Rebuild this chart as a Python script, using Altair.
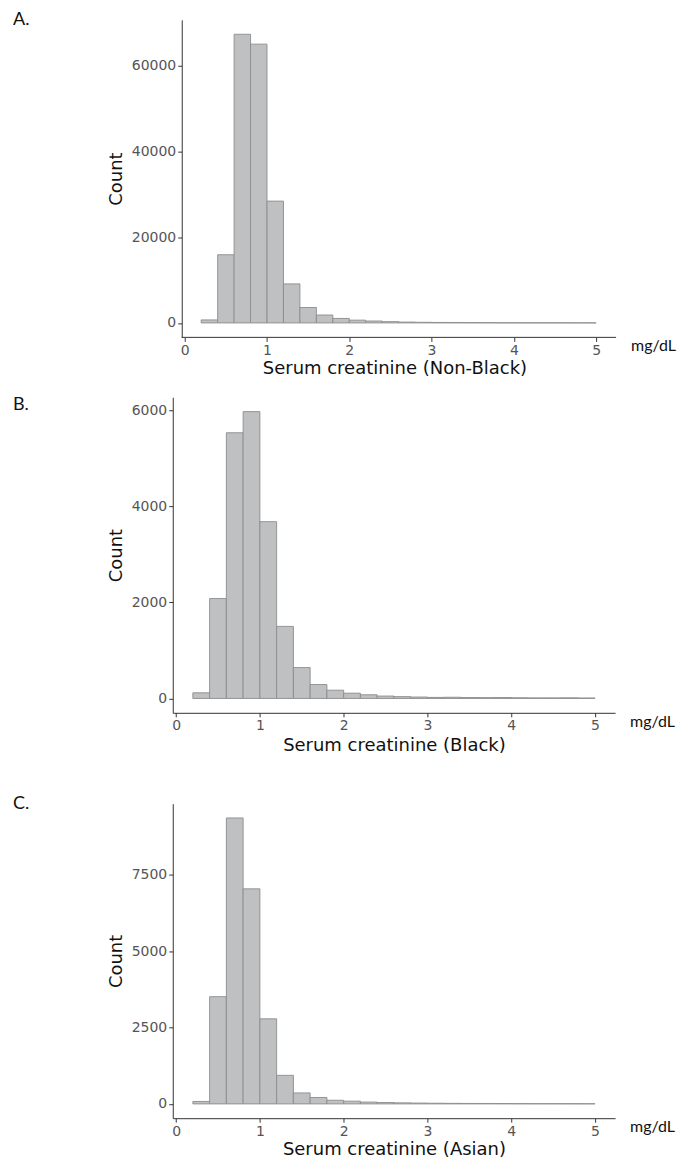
import altair as alt
import pandas as pd

# Bin edges (mg/dL), bin width 0.2
bin_lo = [0.2, 0.4, 0.6, 0.8, 1.0, 1.2, 1.4, 1.6, 1.8, 2.0, 2.2, 2.4,
          2.6, 2.8, 3.0, 3.2, 3.4, 3.6, 3.8, 4.0, 4.2, 4.4, 4.6, 4.8]
bin_hi = [0.4, 0.6, 0.8, 1.0, 1.2, 1.4, 1.6, 1.8, 2.0, 2.2, 2.4, 2.6,
          2.8, 3.0, 3.2, 3.4, 3.6, 3.8, 4.0, 4.2, 4.4, 4.6, 4.8, 5.0]

count_nonblack = [700, 15900, 67300, 65000, 28400, 9100, 3600, 1850, 1050, 650, 450, 300,
                  200, 150, 110, 90, 70, 60, 50, 40, 35, 30, 25, 20]
count_black = [118, 2080, 5530, 5970, 3680, 1500, 643, 290, 172, 110, 77, 50,
               38, 30, 22, 25, 20, 18, 20, 15, 12, 12, 14, 10]
count_asian = [80, 3510, 9360, 7040, 2785, 935, 360, 210, 120, 90, 60, 45,
               35, 28, 22, 18, 15, 14, 12, 10, 9, 8, 7, 6]

x_ticks = [0, 1, 2, 3, 4, 5]
titles = ["Serum creatinine (Non-Black)", "Serum creatinine (Black)", "Serum creatinine (Asian)"]
letters = ["A.", "B.", "C."]
unit = "mg/dL"


def panel(counts, xtitle, letter, xdomain, ydomain, yticks, w, h, letter_y,
          yoffset=0, xaxis_start=None, xtitle_pad=2):
    df = pd.DataFrame({"lo": bin_lo, "hi": bin_hi, "n": counts})
    bars = alt.Chart(df).mark_rect(
        fill="#bfc0c2", stroke="#8c8c8c", strokeWidth=0.9
    ).encode(
        x=alt.X("lo:Q",
                scale=alt.Scale(domain=xdomain, nice=False, zero=False),
                axis=alt.Axis(values=x_ticks, title=xtitle, format="d",
                              titlePadding=xtitle_pad, domain=xaxis_start is None)),
        x2="hi:Q",
        y=alt.Y("n:Q",
                scale=alt.Scale(domain=ydomain, nice=False, zero=False),
                axis=alt.Axis(values=yticks, title="Count", format="d",
                              titlePadding=6, offset=yoffset)),
        y2=alt.datum(0),
    )
    layers = [bars]
    if xaxis_start is not None:
        axis_line = alt.Chart(pd.DataFrame({"a": [xaxis_start], "b": [xdomain[1]],
                                            "y": [ydomain[0]]})).mark_rule(
            color="#333333", strokeWidth=1
        ).encode(x="a:Q", x2="b:Q", y="y:Q")
        layers.append(axis_line)
    lab = alt.Chart(pd.DataFrame({"t": [letter]})).mark_text(
        align="left", baseline="middle", fontSize=18, font="Lato", color="#111"
    ).encode(text="t:N", x=alt.value(-160), y=alt.value(letter_y))
    un = alt.Chart(pd.DataFrame({"t": [unit]})).mark_text(
        align="left", baseline="middle", fontSize=16, font="Lato", color="#111"
    ).encode(text="t:N", x=alt.value(w + 15), y=alt.value(h + 9))
    layers += [lab, un]
    return alt.layer(*layers).properties(width=w, height=h)


pA = panel(count_nonblack, titles[0], letters[0], [-0.1456, 5.243], [-3365, 70665],
           [0, 20000, 40000, 60000], 444, 318, 0, yoffset=-9, xaxis_start=-0.036)
pB = panel(count_black, titles[1], letters[1], [-0.04, 5.24], [-298.5, 6268.5],
           [0, 2000, 4000, 6000], 443, 316, 8, xtitle_pad=4)
pC = panel(count_asian, titles[2], letters[2], [-0.04, 5.24], [-468, 9828],
           [0, 2500, 5000, 7500], 443, 315, 0)

top = alt.vconcat(pA, pB, spacing=19)
chart = alt.vconcat(top, pC, spacing=40).properties(
    padding={"left": 5, "top": 2, "right": 0, "bottom": 0}
).configure_view(stroke=None).configure_axis(
    grid=False,
    domainColor="#333333",
    domainWidth=1,
    tickColor="#333333",
    tickSize=4,
    labelColor="#555555",
    labelFontSize=14,
    labelFont="DejaVu Sans",
    labelPadding=2,
    titleFont="DejaVu Sans",
    titleFontSize=18,
    titleFontWeight="normal",
    titleColor="#111111",
)

chart.save("out.html", embed_options={"renderer": "svg", "actions": False})
